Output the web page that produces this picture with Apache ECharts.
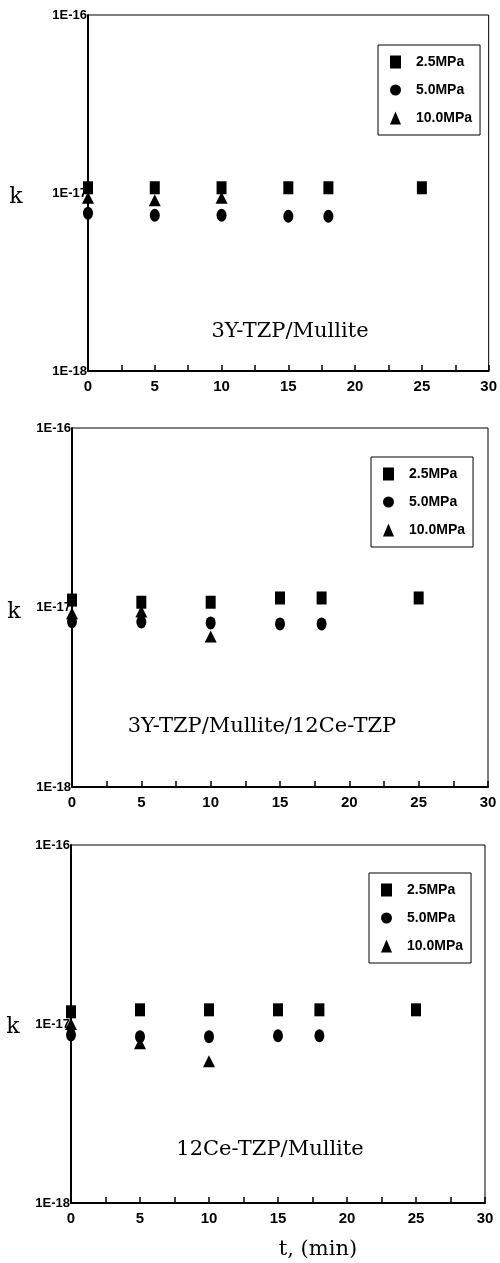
<!DOCTYPE html>
<html>
<head>
<meta charset="utf-8">
<script src="https://cdn.jsdelivr.net/npm/echarts@6/dist/echarts.min.js"></script>
<style>
  html, body { margin: 0; padding: 0; background: #fff; }
  #chart { width: 500px; height: 1263px; }
</style>
</head>
<body>
<div id="chart"></div>
<script>
// k values are given in units of 1E-17
const t25 = [0, 5, 10, 15, 18, 25]
const t50 = [0, 5, 10, 15, 18]
const t100 = [0, 5, 10]

const panelNames = ['3Y-TZP/Mullite', '3Y-TZP/Mullite/12Ce-TZP', '12Ce-TZP/Mullite']
const seriesNames = ['2.5MPa', '5.0MPa', '10.0MPa']

const k25_a = [1.07, 1.07, 1.07, 1.07, 1.07, 1.07]
const k50_a = [0.77, 0.75, 0.75, 0.74, 0.74]
const k100_a = [0.94, 0.91, 0.94]

const k25_b = [1.10, 1.07, 1.07, 1.13, 1.13, 1.13]
const k50_b = [0.835, 0.83, 0.82, 0.81, 0.81]
const k100_b = [0.93, 0.95, 0.69]

const k25_c = [1.17, 1.2, 1.2, 1.2, 1.2, 1.2]
const k50_c = [0.87, 0.85, 0.85, 0.86, 0.86]
const k100_c = [1.0, 0.78, 0.62]

const yTickLabels = { '-1': '1E-18', '0': '1E-17', '1': '1E-16' }

const panels = [
  { k: [k25_a, k50_a, k100_a], grid: { left: 88, right: 9, top: 15, height: 356 }, legend: { left: 378, top: 45 }, note: [290, 332], kPos: [16, 197] },
  { k: [k25_b, k50_b, k100_b], grid: { left: 72, right: 12, top: 428, height: 359 }, legend: { left: 371, top: 457 }, note: [262, 727], kPos: [14, 612] },
  { k: [k25_c, k50_c, k100_c], grid: { left: 71, right: 15, top: 845, height: 358 }, legend: { left: 369, top: 873 }, note: [270, 1150], kPos: [13, 1027] }
]

const times = [t25, t50, t100]
const symbols = ['rect', 'circle', 'triangle']
const symbolSizes = [[10, 13], [10, 13], [12, 12]]
const labelFont = '"Liberation Sans Narrow", "Liberation Sans", Arial, sans-serif'
const serifFont = '"DejaVu Serif", "Liberation Serif", serif'

const grid = [], xAxis = [], yAxis = [], series = [], legend = [], graphic = []

panels.forEach((p, i) => {
  grid.push(Object.assign({ show: true, borderColor: '#000', borderWidth: 1, backgroundColor: 'transparent' }, p.grid))
  xAxis.push({
    type: 'value', gridIndex: i, min: 0, max: 30, interval: 5,
    axisLine: { lineStyle: { color: '#000', width: 2 } },
    axisTick: { inside: true, length: 6, lineStyle: { color: '#000', width: 1.5 } },
    minorTick: { show: true, splitNumber: 2, length: 6, lineStyle: { color: '#000', width: 1.5 } },
    splitLine: { show: false },
    axisLabel: { color: '#000', fontFamily: labelFont, fontWeight: 'bold', fontSize: 15, margin: 8 }
  })
  yAxis.push({
    type: 'log', gridIndex: i, min: 0.1, max: 10, logBase: 10,
    axisLine: { lineStyle: { color: '#000', width: 2 } },
    axisTick: { show: false },
    splitLine: { show: false },
    axisLabel: {
      color: '#000', fontFamily: labelFont, fontWeight: 'bold', fontSize: 13, margin: 1,
      formatter: v => yTickLabels[String(Math.round(Math.log10(v)))] || ''
    }
  })
  // squares, triangles, then circles on top
  ;[0, 2, 1].forEach(s => {
    series.push({
      name: seriesNames[s], type: 'scatter', xAxisIndex: i, yAxisIndex: i,
      symbol: symbols[s], symbolSize: symbolSizes[s],
      itemStyle: { color: '#000', opacity: 1 },
      data: times[s].map((t, j) => [t, p.k[s][j]])
    })
  })
  legend.push({
    left: p.legend.left, top: p.legend.top, orient: 'vertical',
    data: seriesNames.map((n, s) => ({ name: n, icon: symbols[s] })),
    itemWidth: 11, itemHeight: 13, itemGap: 14,
    padding: [10, 8, 10, 12],
    borderColor: '#000', borderWidth: 1,
    selectedMode: false,
    itemStyle: { color: '#000', opacity: 1 },
    textStyle: { color: '#000', fontFamily: labelFont, fontWeight: 'bold', fontSize: 14, padding: [0, 0, 0, 10] }
  })
  graphic.push({
    type: 'text', x: p.note[0], y: p.note[1],
    style: { text: panelNames[i], font: '21px ' + serifFont, fill: '#000', textAlign: 'center', textVerticalAlign: 'middle' }
  })
  graphic.push({
    type: 'text', x: p.kPos[0], y: p.kPos[1],
    style: { text: 'k', font: '22px ' + serifFont, fill: '#000', textAlign: 'center', textVerticalAlign: 'middle' }
  })
})

graphic.push({
  type: 'text', x: 318, y: 1250,
  style: { text: 't, (min)', font: '21px ' + serifFont, fill: '#000', textAlign: 'center', textVerticalAlign: 'middle' }
})

const chart = echarts.init(document.getElementById('chart'))
chart.setOption({
  animation: false,
  backgroundColor: '#fff',
  grid, xAxis, yAxis, series, legend, graphic
})
</script>
</body>
</html>
